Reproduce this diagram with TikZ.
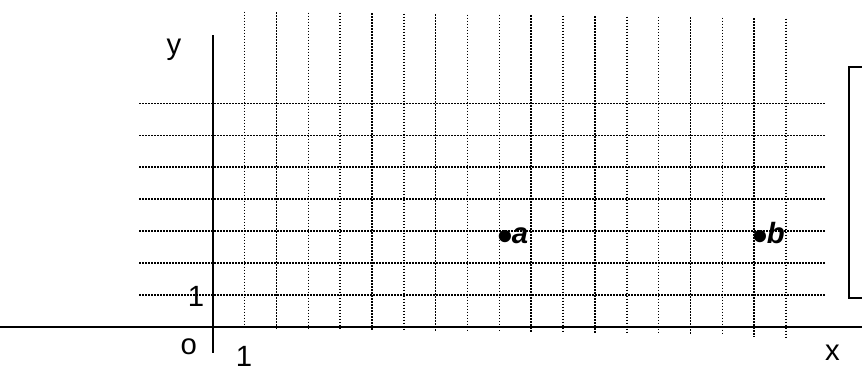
\documentclass[tikz,border=0pt]{standalone}
\usepackage{fontspec}
\setmainfont{Liberation Sans}
\newcommand{\bigdot}{\raisebox{-8.4pt}{\fontsize{45}{45}\selectfont\mdseries\upshape •}}
\begin{document}
\begin{tikzpicture}[x=1pt,y=-1pt,
  gridline/.style={line width=1.5pt, dash pattern=on 1.5pt off 1.5pt},
  axisline/.style={line width=2pt},
  lbl/.style={font=\fontsize{29.3}{35}\selectfont, inner sep=0pt, anchor=base},
  ptlbl/.style={font=\fontsize{29.3}{35}\selectfont\bfseries\itshape, inner sep=0pt, anchor=base west}]
\useasboundingbox (0,0) rectangle (862,365);
% grid
\foreach \k in {1,...,7}
  \draw[gridline] (139.3,{326.7-31.9*\k}) -- (825,{326.7-31.9*\k});
\foreach \k in {1,...,18}
  \draw[gridline] ({212.7+31.85*\k},{11.3+0.4*\k}) -- ({212.7+31.85*\k},{328.5+0.45*\k});
% axes
\coordinate (xl) at (0,326.7);
\coordinate (xr) at (862,326.7);
\coordinate (yt) at (212.7,35);
\coordinate (yb) at (212.7,353.3);
\draw[axisline] (xl) -- (xr);
\draw[axisline] (yt) -- (yb);
% partial box on the right
\draw[line width=2pt] (864,67.3) -- (849.3,67.3) -- (849.3,298.3) -- (864,298.3);
% labels
\node[lbl] (ylabel) at (174,54.8) {y};
\node[lbl] (xlabel) at (832.5,360) {x};
\node[lbl] (origin) at (188.7,354.7) {o};
\node[lbl] (onex) at (244.1,366.5) {1};
\node[lbl] (oney) at (196.1,306) {1};
% points
\node[ptlbl] (a) at (497.5,243) {\bigdot\kern-1.5pt a};
\node[ptlbl] (b) at (752.5,243) {\bigdot\kern-1.5pt b};
\end{tikzpicture}
\end{document}
